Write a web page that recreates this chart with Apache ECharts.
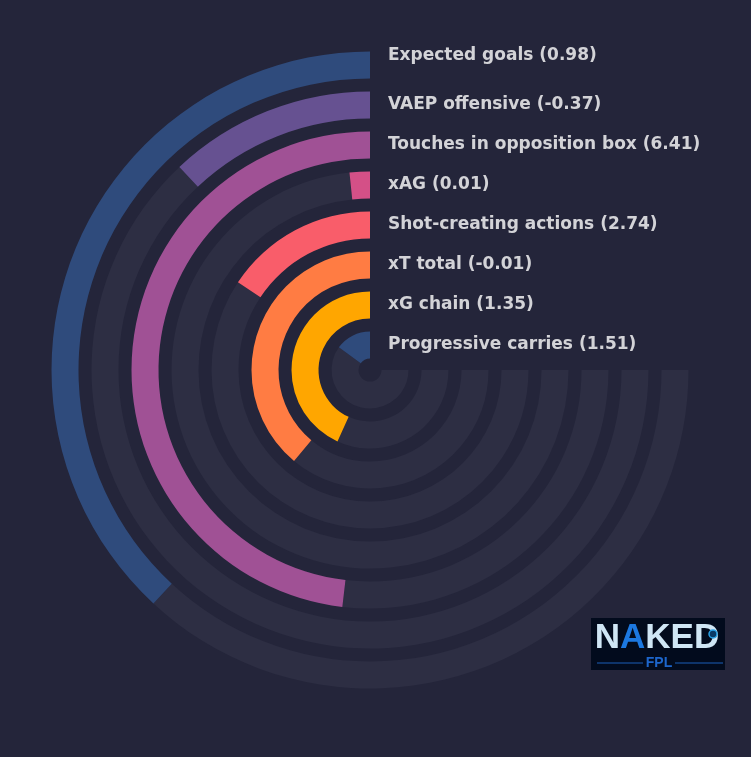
<!DOCTYPE html>
<html>
<head>
<meta charset="utf-8">
<script src="https://cdn.jsdelivr.net/npm/echarts@6/dist/echarts.min.js"></script>
<style>
  html, body { margin: 0; padding: 0; background: #24253a; }
  #chart { width: 751px; height: 757px; }
</style>
</head>
<body>
<div id="chart"></div>
<script>
// Inner ring to outer ring
const categories = [
  'Progressive carries',
  'xG chain',
  'xT total',
  'Shot-creating actions',
  'xAG',
  'Touches in opposition box',
  'VAEP offensive',
  'Expected goals'
];
// Raw metric values shown in the labels
const rawValues = [1.51, 1.35, -0.01, 2.74, 0.01, 6.41, -0.37, 0.98];
// Bar lengths (percent of the full 270° track)
const percentiles = [20.0, 57.6, 51.9, 20.9, 2.2, 64.2, 16.0, 50.8];
const barColors = ['#2f4b7c', '#ffa600', '#ff7c43', '#f95d6a', '#d45087', '#a05195', '#665191', '#2f4b7c'];
const trackMax = 100;

const chart = echarts.init(document.getElementById('chart'), null, { renderer: 'canvas' });
const last = categories.length - 1;

const option = {
  backgroundColor: '#24253a',
  animation: false,
  polar: { center: [370, 370], radius: [5, 325] },
  angleAxis: {
    type: 'value',
    min: 0,
    max: trackMax / 0.75,
    startAngle: 90,
    clockwise: false,
    show: false
  },
  radiusAxis: {
    type: 'category',
    data: categories,
    show: false
  },
  series: [
    {
      name: 'value',
      type: 'bar',
      coordinateSystem: 'polar',
      stack: 'ring',
      data: percentiles.map((v, i) => ({ value: v, itemStyle: { color: barColors[i] } })),
      barWidth: 27,
      silent: true,
      z: 2
    },
    {
      name: 'track',
      type: 'bar',
      coordinateSystem: 'polar',
      stack: 'ring',
      data: percentiles.map((v) => trackMax - v),
      barWidth: 27,
      itemStyle: { color: '#2d2e43' },
      silent: true,
      z: 1
    },
    {
      name: 'labels',
      type: 'scatter',
      coordinateSystem: 'polar',
      symbolSize: 0,
      silent: true,
      z: 3,
      data: categories.map((c, i) => ({
        value: [c, 0],
        label: { offset: i === last ? [0, -9] : [0, 0] }
      })),
      label: {
        show: true,
        position: 'right',
        distance: 18,
        color: '#ffffff',
        fontFamily: 'DejaVu Sans',
        fontWeight: 'bold',
        fontSize: 17,
        formatter: (p) => {
          const i = p.dataIndex;
          return categories[i] + ' (' + rawValues[i].toFixed(2) + ')';
        }
      }
    }
  ],
  graphic: [
    {
      type: 'group',
      left: 591,
      top: 618,
      children: [
        { type: 'rect', shape: { x: 0, y: 0, width: 134, height: 52 }, style: { fill: '#020b1d' } },
        {
          type: 'text',
          x: 66, y: 3,
          style: {
            text: '{a|N}{b|A}{a|KED}',
            align: 'center',
            rich: {
              a: { fontFamily: 'Liberation Sans', fontWeight: 'bold', fontSize: 35, fill: '#cfe6f5' },
              b: { fontFamily: 'Liberation Sans', fontWeight: 'bold', fontSize: 35, fill: '#1c78e0' }
            }
          }
        },
        { type: 'circle', shape: { cx: 122, cy: 16, r: 4 }, style: { fill: '#0a3a66', stroke: '#2aa3e8', lineWidth: 1.5 } },
        { type: 'line', shape: { x1: 6, y1: 45, x2: 52, y2: 45 }, style: { stroke: '#1b5fb8', lineWidth: 1 } },
        { type: 'line', shape: { x1: 84, y1: 45, x2: 132, y2: 45 }, style: { stroke: '#1b5fb8', lineWidth: 1 } },
        {
          type: 'text',
          x: 68, y: 38,
          style: { text: 'FPL', align: 'center', fontFamily: 'Liberation Sans', fontWeight: 'bold', fontSize: 14, fill: '#1d66cc' }
        }
      ]
    }
  ]
};

chart.setOption(option);
</script>
</body>
</html>
